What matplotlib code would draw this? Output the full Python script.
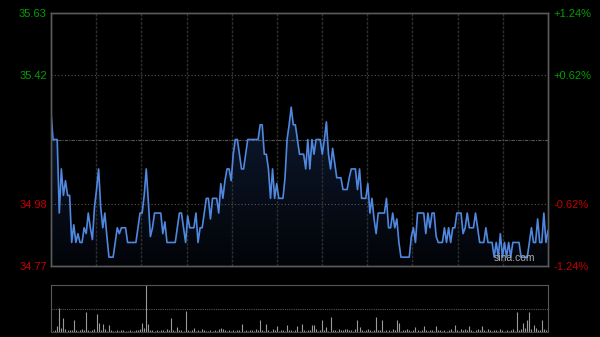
import matplotlib
matplotlib.use("Agg")
import matplotlib.pyplot as plt
import numpy as np

# intraday prices, one per minute (241 points)
prices = [
    35.29, 35.20, 35.20, 35.20, 34.95, 35.10, 35.01, 35.06, 35.01, 35.01,
    34.85, 34.91, 34.85, 34.88, 34.85, 34.85, 34.90, 34.88, 34.95, 34.90,
    34.86, 34.97, 35.03, 35.10, 34.97, 34.90, 34.95, 34.87, 34.80, 34.80,
    34.80, 34.85, 34.90, 34.88, 34.90, 34.90, 34.90, 34.85, 34.85, 34.85,
    34.85, 34.85, 34.90, 34.95, 34.95, 35.01, 35.10, 34.99, 34.87, 34.90,
    34.95, 34.95, 34.95, 34.95, 34.88, 34.92, 34.85, 34.85, 34.85, 34.85,
    34.85, 34.90, 34.95, 34.95, 34.90, 34.85, 34.94, 34.90, 34.90, 34.90,
    34.95, 34.85, 34.90, 34.90, 34.95, 35.00, 35.00, 34.93, 35.00, 35.00,
    35.00, 34.95, 35.05, 35.00, 35.06, 35.10, 35.10, 35.06, 35.15, 35.20,
    35.20, 35.15, 35.10, 35.10, 35.15, 35.20, 35.20, 35.20, 35.20, 35.20,
    35.20, 35.25, 35.25, 35.15, 35.15, 35.10, 35.00, 35.10, 35.00, 35.05,
    35.00, 35.00, 35.00, 35.07, 35.20, 35.25, 35.31, 35.25, 35.25, 35.20,
    35.15, 35.15, 35.15, 35.10, 35.20, 35.10, 35.20, 35.15, 35.20, 35.20,
    35.20, 35.15, 35.20, 35.26, 35.15, 35.10, 35.17, 35.12, 35.07, 35.07,
    35.07, 35.03, 35.03, 35.03, 35.07, 35.10, 35.10, 35.10, 35.03, 35.10,
    35.00, 35.00, 35.00, 35.05, 34.95, 35.00, 34.93, 34.88, 34.95, 34.95,
    34.95, 34.95, 35.00, 34.90, 34.90, 34.95, 34.90, 34.93, 34.85, 34.80,
    34.80, 34.80, 34.80, 34.80, 34.87, 34.90, 34.85, 34.95, 34.95, 34.95,
    34.95, 34.88, 34.95, 34.90, 34.95, 34.95, 34.87, 34.85, 34.85, 34.85,
    34.90, 34.85, 34.90, 34.85, 34.90, 34.90, 34.95, 34.95, 34.95, 34.88,
    34.90, 34.95, 34.90, 34.90, 34.90, 34.95, 34.90, 34.85, 34.85, 34.85,
    34.90, 34.85, 34.85, 34.85, 34.80, 34.85, 34.80, 34.88, 34.80, 34.85,
    34.80, 34.85, 34.80, 34.85, 34.85, 34.85, 34.85, 34.80, 34.80, 34.80,
    34.80, 34.85, 34.90, 34.85, 34.85, 34.93, 34.85, 34.85, 34.95, 34.85,
    34.89,
]

# per-minute volume (relative units)
volumes = [
    8, 3, 4, 12, 51, 9, 30, 6, 4, 5,
    5, 25, 4, 3, 5, 6, 4, 43, 5, 3,
    4, 6, 38, 20, 4, 17, 6, 3, 15, 4,
    3, 2, 4, 3, 5, 4, 3, 2, 4, 3,
    3, 5, 4, 6, 20, 8, 100, 17, 5, 4,
    3, 4, 3, 5, 4, 3, 6, 5, 29, 4,
    3, 11, 4, 5, 3, 44, 4, 3, 5, 9,
    3, 4, 3, 6, 4, 3, 2, 5, 3, 4,
    3, 7, 9, 6, 4, 3, 5, 2, 4, 3,
    4, 5, 18, 3, 4, 2, 5, 4, 3, 6,
    4, 25, 5, 3, 18, 4, 3, 6, 4, 12,
    3, 4, 5, 3, 14, 4, 5, 3, 4, 12,
    3, 18, 4, 3, 5, 4, 15, 15, 6, 3,
    4, 26, 5, 10, 3, 32, 4, 5, 3, 6,
    4, 5, 7, 6, 4, 5, 3, 6, 25, 10,
    4, 3, 5, 6, 4, 3, 5, 32, 5, 4,
    26, 3, 4, 5, 3, 6, 4, 25, 20, 3,
    4, 5, 6, 4, 3, 5, 10, 4, 3, 5,
    12, 4, 3, 5, 4, 3, 12, 4, 5, 3,
    4, 3, 5, 6, 3, 14, 4, 3, 6, 5,
    6, 4, 12, 5, 3, 4, 6, 5, 12, 4,
    3, 6, 4, 3, 5, 4, 3, 6, 4, 3,
    5, 3, 4, 6, 3, 43, 5, 6, 20, 8,
    26, 43, 6, 15, 9, 5, 4, 26, 6, 5,
    8,
]

pre_close = 35.20
price_ticks = [34.77, 34.98, 35.42, 35.63]
left_labels = ["34.77", "34.98", "35.42", "35.63"]
right_labels = ["-1.24%", "-0.62%", "+0.62%", "+1.24%"]
label_colors = ["#c00000", "#c00000", "#00a000", "#00a000"]

GRID = "#2e2e2e"
FRAME = "#5a5a5a"

fig = plt.figure(figsize=(6, 3.37), dpi=100, facecolor="black")
ax = fig.add_axes([51 / 600, 1 - 266 / 337, 497 / 600, 253 / 337])
axv = fig.add_axes([51 / 600, 1 - 332 / 337, 497 / 600, 47 / 337])

x = np.arange(len(prices))
y = np.array(prices)
ymin, ymax = 34.77, 35.63

# price panel
ax.set_facecolor("black")
ax.set_xlim(0, 240)
ax.set_ylim(ymin, ymax)

for i in range(1, 11):
    ax.axvline(i * 240 / 11, color=GRID, lw=1, ls=(0, (2, 1)))
for p in [34.98, 35.42]:
    ax.axhline(p, color="#555555", lw=0.8, ls=(0, (1, 2)))
ax.axhline(pre_close, color="#555555", lw=0.8, ls=(0, (3, 1, 1, 1)))

# gradient fill under the line
poly = ax.fill_between(x, y, ymin, color="none")
grad = np.linspace(0, 1, 256).reshape(-1, 1)
im = ax.imshow(grad, extent=[0, 240, ymin, y.max()], origin="lower",
               aspect="auto", cmap=matplotlib.colors.LinearSegmentedColormap.from_list(
                   "g", ["#020408", "#0e1a30"]), zorder=1)
im.set_clip_path(poly.get_paths()[0], transform=ax.transData)

ax.plot(x, y, color="#5088e0", lw=1.2, zorder=3)

ax.set_yticks(price_ticks)
ax.set_yticklabels(left_labels, fontsize=8, family="Liberation Sans")
for t, c in zip(ax.get_yticklabels(), label_colors):
    t.set_color(c)
ax.tick_params(axis="y", length=0, pad=3)
ax.set_xticks([])

ax2 = ax.twinx()
ax2.set_ylim(ymin, ymax)
ax2.set_yticks(price_ticks)
ax2.set_yticklabels(right_labels, fontsize=8, family="Liberation Sans")
for t, c in zip(ax2.get_yticklabels(), label_colors):
    t.set_color(c)
ax2.tick_params(axis="y", length=0, pad=4)
ax2.set_xticks([])

for a in (ax, ax2):
    for s in a.spines.values():
        s.set_color(FRAME)
        s.set_linewidth(1)

ax.text(0.975, 0.012, "sina.com", transform=ax.transAxes, ha="right", va="bottom",
        color="#aaaaaa", fontsize=7.5, family="Liberation Sans", zorder=5)

# volume panel
axv.set_facecolor("black")
axv.set_xlim(0, 240)
axv.set_ylim(0, max(volumes))
axv.vlines(x, 0, volumes, color="#9a9a9a", lw=0.8)
axv.axhline(max(volumes) / 2, color="#555555", lw=0.8, ls=(0, (1, 1)))
axv.set_xticks([])
axv.set_yticks([])
for k in ("left", "right"):
    axv.spines[k].set_color(FRAME)
axv.spines["bottom"].set_color("#444444")
axv.spines["top"].set_color("#555555")
axv.spines["top"].set_linestyle((0, (1, 1)))

fig.savefig("out.png", dpi=100, facecolor="black")
